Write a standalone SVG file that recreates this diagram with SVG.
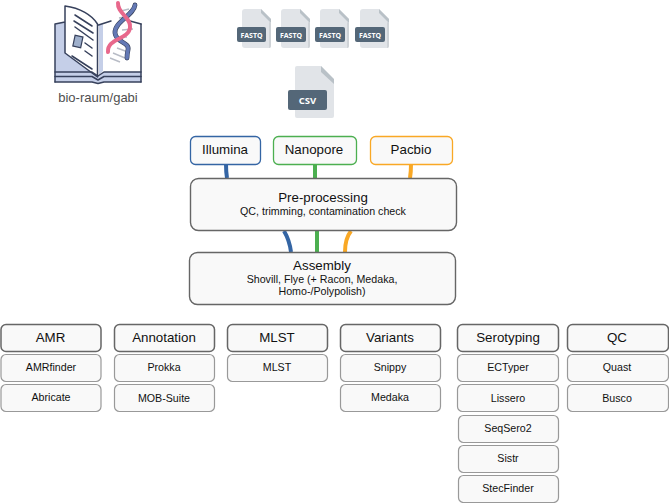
<svg xmlns="http://www.w3.org/2000/svg" width="669" height="503" viewBox="0 0 669 503">
<style>
text{font-family:"Liberation Sans",Arial,sans-serif;fill:#111;text-anchor:middle}
.box{fill:#f9f9f9;stroke-width:1.3}
.t14{font-size:13.33px}.t11{font-size:10.67px}
.head{stroke:#666;stroke-width:1.5;fill:#f9f9f9}
.tool{stroke:#999;stroke-width:1.2;fill:#f9f9f9}
.main{stroke:#666;stroke-width:1.4;fill:#f9f9f9}
.c{fill:none;stroke-width:4}
.blue{stroke:#3465a4}.green{stroke:#4caf50}.orange{stroke:#f9a825}
.page{fill:#e1e4e8}.fold{fill:#b9c1c7}.side{fill:#cfd3d7}.tag{fill:#546778}
.tagt{font-family:"Open Sans","Liberation Sans",sans-serif;fill:#fff;font-weight:bold}
.ol{fill:none;stroke:#37415c;stroke-width:1.5;stroke-linecap:round;stroke-linejoin:round}
.rung{fill:none;stroke:#b8bcc6;stroke-width:1.4}
.dna{fill:none;stroke-linecap:round}
</style>
<defs>
<g id="fq">
<path class="page" d="M0 3Q0 0 3 0H19L29 10V37Q29 39 27 39H3Q0 39 0 36Z"/>
<path class="fold" d="M19 0L29 10V14L19 4Z"/>
<path class="side" d="M27 13L29 14V37Q29 39 27 39Z"/>
</g>
</defs>
<g id="logo">
<path d="M55 24L65 22V53L97 76V80H55Z" fill="#c5cfe8"/>
<path d="M65 6C80 8 92 15 97.500 24V77L65 53Z" fill="#fff"/>
<path d="M99 25H141V72H104L99 76Z" fill="#fff"/>
<path d="M99 25L103 24V71L99 75Z" fill="#c5cfe8"/>
<path d="M55 72H92L98 76L104 72H141V82H104L98 83L92 82H55Z" fill="#c5cfe8"/>
<path class="ol" d="M55 24V82M141 24V82M55 24L65 22M65 6V53L97.500 77V24C92 15 80 8 65 6Z"/>
<path class="ol" d="M98.500 25L111 21M130 21L141 24"/>
<path class="ol" d="M55 72H92L98 76L104 72H141M55 76.500H92L98 80L104 76.500H141M55 82H92L98 83.500L104 82H141"/>
<path class="ol" d="M75 15L92 26M74 21L93 33M75 27L93 40M85 43L92 48M85 51L92 56M72 56L92 69"/>
<rect x="74" y="36" width="8" height="11" fill="#9fb0cc" stroke="#37415c" stroke-width="1.2" transform="rotate(12 78 41)"/>
<path class="rung" d="M121 11L129 9M119 18L130 16M122 30L133 29M117 48L128 52M113 53L125 58M110 58L120 62M120 37L127 37"/>
<path class="dna" stroke="#37415c" stroke-width="4.800" d="M135 5C134 15 114 22 115 33C116 43 130 42 128 50C127 54 127 56 127 58"/>
<path class="dna" stroke="#6479b5" stroke-width="3.600" d="M135 5C134 15 114 22 115 33C116 43 130 42 128 50C127 54 127 56 127 58"/>
<path class="dna" stroke="#e8688c" stroke-width="4" d="M118 3C117 13 132 18 130 28C128 40 107 38 108 52"/>
<text x="98" y="102" font-size="13" style="fill:#4f4f4f">bio-raum/gabi</text>
</g>
<g id="fastq1"><use href="#fq" transform="translate(242 9)"/><rect class="tag" x="237" y="27" width="29" height="15" rx="2"/><text class="tagt" x="251.500" y="38" font-size="7">FASTQ</text></g>
<g id="fastq2"><use href="#fq" transform="translate(281 9)"/><rect class="tag" x="276" y="27" width="30" height="15" rx="2"/><text class="tagt" x="291" y="38" font-size="7">FASTQ</text></g>
<g id="fastq3"><use href="#fq" transform="translate(320 9)"/><rect class="tag" x="315" y="27" width="30" height="15" rx="2"/><text class="tagt" x="330" y="38" font-size="7">FASTQ</text></g>
<g id="fastq4"><use href="#fq" transform="translate(360 9)"/><rect class="tag" x="355" y="27" width="30" height="15" rx="2"/><text class="tagt" x="370" y="38" font-size="7">FASTQ</text></g>
<g id="csv">
<path class="page" d="M295 68Q295 66 297 66H321L334 80V116Q334 118 332 118H297Q295 118 295 116Z"/>
<path class="fold" d="M321 66L334 79V84L321 72Z"/>
<rect class="tag" x="288" y="90" width="39" height="20" rx="2"/>
<text class="tagt" x="307.500" y="103.500" font-size="9.500">CSV</text>
</g>
<g id="connectors">
<path class="c blue" d="M226 164C226 170 226 172 227 178"/>
<path class="c green" d="M315 164V178"/>
<path class="c orange" d="M411 164C411 170 411 172 410 178"/>
<path class="c blue" d="M284 231C287 236 290 244 291 252"/>
<path class="c green" d="M317 231V252"/>
<path class="c orange" d="M351 231C347 236 345 244 345 252"/>
</g>
<g id="illumina"><rect class="box" x="190.500" y="136.500" width="70" height="28" rx="5" stroke="#3465a4"/><text class="t14" x="225" y="154">Illumina</text></g>
<g id="nanopore"><rect class="box" x="273.500" y="136.500" width="83" height="28" rx="5" stroke="#4caf50"/><text class="t14" x="314" y="154">Nanopore</text></g>
<g id="pacbio"><rect class="box" x="370.500" y="136.500" width="82" height="28" rx="5" stroke="#f9a825"/><text class="t14" x="411" y="154">Pacbio</text></g>
<g id="preprocessing"><rect class="main" x="190.500" y="178.500" width="266" height="52" rx="8"/><text class="t14" x="323" y="202">Pre-processing</text><text class="t11" x="323" y="215">QC, trimming, contamination check</text></g>
<g id="assembly"><rect class="main" x="189.500" y="252.500" width="266" height="52" rx="8"/><text class="t14" x="322" y="270">Assembly</text><text class="t11" x="322" y="283">Shovill, Flye (+ Racon, Medaka,</text><text class="t11" x="322" y="295">Homo-/Polypolish)</text></g>
<g id="amr"><rect class="head" x="1" y="324.500" width="100" height="27" rx="5"/><text class="t14" x="50.500" y="342">AMR</text></g>
<g id="amrfinder"><rect class="tool" x="1" y="354.500" width="100" height="27" rx="5"/><text class="t11" x="51" y="371">AMRfinder</text></g>
<g id="abricate"><rect class="tool" x="1" y="384.500" width="100" height="27" rx="5"/><text class="t11" x="51" y="401">Abricate</text></g>
<g id="annotation"><rect class="head" x="114.500" y="324.500" width="100" height="27" rx="5"/><text class="t14" x="164" y="342">Annotation</text></g>
<g id="prokka"><rect class="tool" x="114.500" y="354.500" width="100" height="27" rx="5"/><text class="t11" x="164" y="371">Prokka</text></g>
<g id="mobsuite"><rect class="tool" x="114.500" y="384.500" width="100" height="27" rx="5"/><text class="t11" x="164" y="402">MOB-Suite</text></g>
<g id="mlst-head"><rect class="head" x="227.500" y="324.500" width="100" height="27" rx="5"/><text class="t14" x="277" y="342">MLST</text></g>
<g id="mlst"><rect class="tool" x="227.500" y="354.500" width="100" height="27" rx="5"/><text class="t11" x="277" y="371">MLST</text></g>
<g id="variants"><rect class="head" x="340.500" y="324.500" width="100" height="27" rx="5"/><text class="t14" x="390" y="342">Variants</text></g>
<g id="snippy"><rect class="tool" x="340.500" y="354.500" width="100" height="27" rx="5"/><text class="t11" x="390" y="371">Snippy</text></g>
<g id="medaka"><rect class="tool" x="340.500" y="384.500" width="100" height="27" rx="5"/><text class="t11" x="390" y="401">Medaka</text></g>
<g id="serotyping"><rect class="head" x="457.500" y="324.500" width="101" height="27" rx="5"/><text class="t14" x="508" y="342">Serotyping</text></g>
<g id="ectyper"><rect class="tool" x="457.500" y="354.500" width="101" height="27" rx="5"/><text class="t11" x="508" y="371">ECTyper</text></g>
<g id="lissero"><rect class="tool" x="457.500" y="384.500" width="101" height="27" rx="5"/><text class="t11" x="508" y="402">Lissero</text></g>
<g id="seqsero2"><rect class="tool" x="458.500" y="415.500" width="100" height="27" rx="5"/><text class="t11" x="508" y="432">SeqSero2</text></g>
<g id="sistr"><rect class="tool" x="458.500" y="445.500" width="100" height="27" rx="5"/><text class="t11" x="508" y="462">Sistr</text></g>
<g id="stecfinder"><rect class="tool" x="458.500" y="475.500" width="100" height="27" rx="5"/><text class="t11" x="508" y="492">StecFinder</text></g>
<g id="qc"><rect class="head" x="567.500" y="324.500" width="101" height="27" rx="5"/><text class="t14" x="617" y="342">QC</text></g>
<g id="quast"><rect class="tool" x="567.500" y="354.500" width="101" height="27" rx="5"/><text class="t11" x="617" y="371">Quast</text></g>
<g id="busco"><rect class="tool" x="567.500" y="384.500" width="101" height="27" rx="5"/><text class="t11" x="617" y="402">Busco</text></g>
</svg>
